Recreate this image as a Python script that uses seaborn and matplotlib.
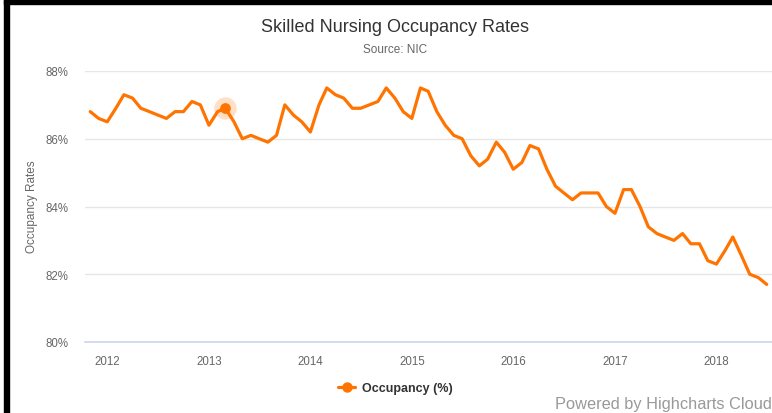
import pandas as pd
import matplotlib
matplotlib.use('Agg')
import matplotlib.pyplot as plt
import matplotlib.dates as mdates
from matplotlib.lines import Line2D
from matplotlib.patches import Rectangle
import seaborn as sns

# Monthly occupancy (%), Nov 2011 .. Jul 2018
first_month = '2011-11-01'
occupancy = [
    86.8, 86.6,
    86.5, 86.9, 87.3, 87.2, 86.9, 86.8, 86.7, 86.6, 86.8, 86.8, 87.1, 87.0,
    86.4, 86.8, 86.9, 86.5, 86.0, 86.1, 86.0, 85.9, 86.1, 87.0, 86.7, 86.5,
    86.2, 87.0, 87.5, 87.3, 87.2, 86.9, 86.9, 87.0, 87.1, 87.5, 87.2, 86.8,
    86.6, 87.5, 87.4, 86.8, 86.4, 86.1, 86.0, 85.5, 85.2, 85.4, 85.9, 85.6,
    85.1, 85.3, 85.8, 85.7, 85.1, 84.6, 84.4, 84.2, 84.4, 84.4, 84.4, 84.0,
    83.8, 84.5, 84.5, 84.0, 83.4, 83.2, 83.1, 83.0, 83.2, 82.9, 82.9, 82.4,
    82.3, 82.7, 83.1, 82.55, 82.0, 81.9, 81.7,
]
y_ticks = [80, 82, 84, 86, 88]
highlight_month = '2013-03-01'

months = pd.date_range(first_month, periods=len(occupancy), freq='MS')
df = pd.DataFrame({'month': months, 'occupancy': occupancy})

ORANGE = '#ff7400'
W, H = 772, 414

sns.set_style('white')
plt.rcParams['font.family'] = ['Liberation Sans', 'DejaVu Sans']

fig = plt.figure(figsize=(W / 100, H / 100), dpi=100)
ax = fig.add_axes([85 / W, 1 - 343 / H, (W - 85) / W, (343 - 72) / H])

sns.lineplot(data=df, x='month', y='occupancy', ax=ax, color=ORANGE,
             linewidth=2.3, legend=False)

# hovered point
hp = df[df['month'] == pd.Timestamp(highlight_month)]
ax.scatter(hp['month'], hp['occupancy'], s=260, color=ORANGE, alpha=0.22,
           linewidths=0, zorder=4)
ax.scatter(hp['month'], hp['occupancy'], s=60, color=ORANGE, linewidths=0,
           zorder=5)

ax.set_xlim(pd.Timestamp('2011-10-13'), pd.Timestamp('2018-07-20'))
ax.set_ylim(80, 88)
ax.set_yticks(y_ticks)
ax.set_yticklabels([f'{v}%' for v in y_ticks])
ax.xaxis.set_major_locator(mdates.YearLocator())
ax.xaxis.set_major_formatter(mdates.DateFormatter('%Y'))
ax.set_xlabel('')
ax.set_ylabel('')

ax.grid(axis='y', color='#e6e6e6', linewidth=1)
ax.grid(axis='x', visible=False)
for s in ['top', 'right', 'left']:
    ax.spines[s].set_visible(False)
ax.spines['bottom'].set_color('#ccd6eb')
ax.spines['bottom'].set_linewidth(1.2)
ax.tick_params(axis='x', length=7.5, width=0.8, color='#ccd6eb', pad=2,
               labelsize=8.3, labelcolor='#666666')
ax.tick_params(axis='y', length=0, pad=12, labelsize=8.3,
               labelcolor='#666666')

fig.text(395 / W, 1 - 27 / H, 'Skilled Nursing Occupancy Rates', ha='center',
         va='center', fontsize=13, color='#333333')
fig.text(395 / W, 1 - 50 / H, 'Source: NIC', ha='center', va='center',
         fontsize=8.5, color='#666666')
fig.text(32 / W, 1 - 207 / H, 'Occupancy Rates', rotation=90, ha='center',
         va='center', fontsize=8.5, color='#666666')
fig.text(772 / W, 1 - 405 / H, 'Powered by Highcharts Cloud', ha='right',
         va='center', fontsize=11.8, color='#999999')

handle = Line2D([], [], color=ORANGE, linewidth=2.3, marker='o',
                markersize=6.5)
leg = fig.legend([handle], ['Occupancy (%)'], loc='center',
                 bbox_to_anchor=(395 / W, 1 - 389 / H), frameon=False,
                 handlelength=1.4, handletextpad=0.5,
                 prop={'weight': 'bold', 'size': 9})
for t in leg.get_texts():
    t.set_color('#333333')

# screenshot frame
fig.patches.append(Rectangle((4 / W, 0), 5 / W, 1, transform=fig.transFigure,
                             color='black', zorder=10))
fig.patches.append(Rectangle((4 / W, 1 - 5 / H), 1, 4 / H,
                             transform=fig.transFigure, color='black',
                             zorder=10))

fig.savefig('out.png', dpi=100)
